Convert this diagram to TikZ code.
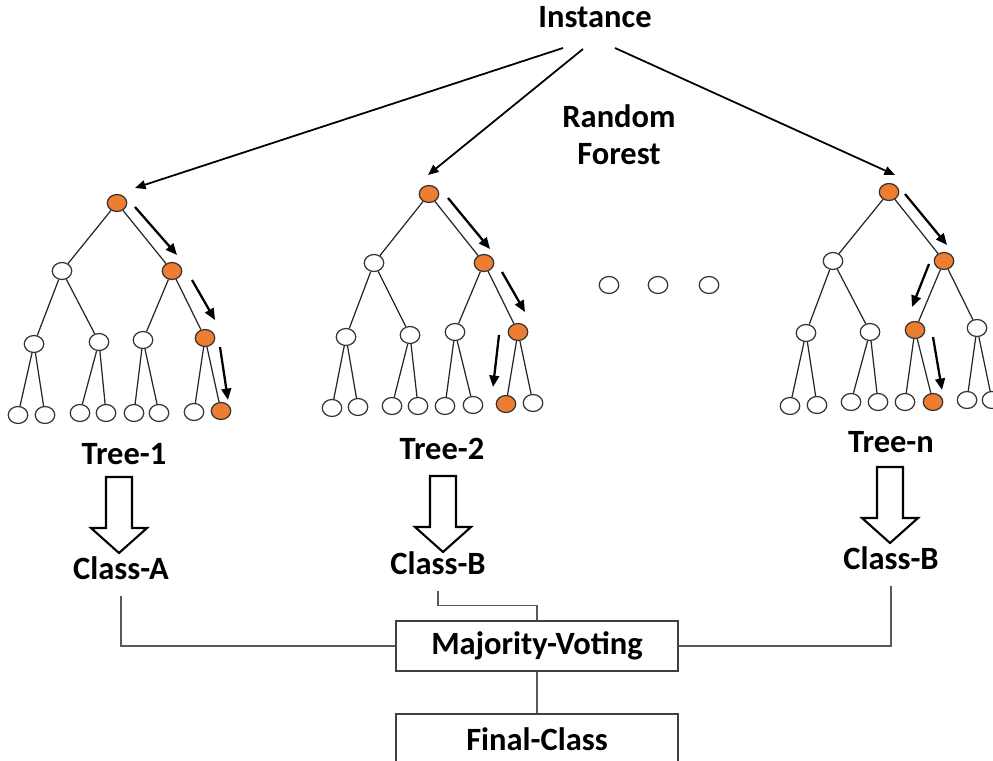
\documentclass[tikz,border=0pt]{standalone}
\usepackage{fontspec}
\setmainfont{Carlito}
\usetikzlibrary{arrows.meta,shapes.geometric}
\definecolor{pathorange}{HTML}{ED7D31}

\begin{document}
\begin{tikzpicture}[x=0.02cm, y=-0.02cm,
    lbl/.style={font=\fontsize{18.5}{21}\selectfont\bfseries, align=center},
    treenode/.style={ellipse, draw=black!80, line width=0.7pt, fill=white, minimum width=0.39cm, minimum height=0.34cm, inner sep=0pt},
    branch/.style={draw=black!85, line width=0.7pt},
    walk/.style={line width=1.3pt, -{Triangle[length=6.5pt,width=5.5pt]}},
    feed/.style={line width=1pt, -{Triangle[length=6pt,width=5pt]}},
    classlbl/.style={lbl, inner ysep=9pt},
    votebox/.style={lbl, draw=black!75, line width=0.8pt, minimum width=5.64cm, minimum height=1cm},
    hollow/.style={draw, line width=1.2pt, line join=miter},
    wire/.style={draw=black!65, line width=0.6pt}]
    \useasboundingbox (0,0) rectangle (993,760);

    % Instance and title
    \node[lbl] (inst) at (595,17) {Instance};
    \node[lbl] (forest) at (619,135) {Random\\ Forest};

    % Tree-1
    \foreach \n/\x/\y/\col in {r/117/203/pathorange, a/62/271/white, b/172/271/pathorange,
        aa/34/344/white, ab/99/342/white, ba/143/340/white, bb/205/338/pathorange,
        aaa/18/415/white, aab/45/415/white, aba/80/413/white, abb/106/413/white,
        baa/134/413/white, bab/159/413/white, bba/194/412/white, bbb/221/411/pathorange}
        \node[treenode, fill=\col] (t1\n) at (\x,\y) {};

    % Tree-2
    \foreach \n/\x/\y/\col in {r/429/194/pathorange, a/374/263/white, b/484/263/pathorange,
        aa/346/337/white, ab/410/335/white, ba/455/332/white, bb/518/332/pathorange,
        aaa/332/408/white, aab/358/407/white, aba/392/406/white, abb/418/406/white,
        baa/445/406/white, bab/473/405/white, bba/506/404/pathorange, bbb/533/403/white}
        \node[treenode, fill=\col] (t2\n) at (\x,\y) {};

    % Tree-n
    \foreach \n/\x/\y/\col in {r/889/192/pathorange, a/833/261/white, b/944/261/pathorange,
        aa/806/333/white, ab/870/332/white, ba/915/330/pathorange, bb/977/328/white,
        aaa/790/406/white, aab/817/405/white, aba/851/402/white, abb/878/402/white,
        baa/905/402/white, bab/933/402/pathorange, bba/967/400/white, bbb/992/400/white}
        \node[treenode, fill=\col] (tn\n) at (\x,\y) {};

    % branches
    \foreach \t in {1,2,n}
        \foreach \p/\kid in {r/a, r/b, a/aa, a/ab, b/ba, b/bb, aa/aaa, aa/aab,
                             ab/aba, ab/abb, ba/baa, ba/bab, bb/bba, bb/bbb}
            \draw[branch] (t\t\p) -- (t\t\kid);

    % dots between the trees
    \foreach \i/\x in {1/609, 2/658, 3/709}
        \node[treenode] (dot\i) at (\x,285) {};

    % Instance arrows
    \draw[feed] ([shift={(-32,31)}]inst.center) -- ([shift={(18,-15)}]t1r.center);
    \draw[feed] ([shift={(-12,32)}]inst.center) -- ([shift={(-1,-19)}]t2r.center);
    \draw[feed] ([shift={(20,31)}]inst.center) -- ([shift={(6,-17)}]tnr.center);

    % decision paths
    \draw[walk] ([shift={(18,4)}]t1r.center) -- ([shift={(5,-16)}]t1b.center);
    \draw[walk] ([shift={(20,9)}]t1b.center) -- ([shift={(10,-18)}]t1bb.center);
    \draw[walk] ([shift={(15,9)}]t1bb.center) -- ([shift={(7,-11)}]t1bbb.center);

    \draw[walk] ([shift={(19,4)}]t2r.center) -- ([shift={(6,-14)}]t2b.center);
    \draw[walk] ([shift={(18,9)}]t2b.center) -- ([shift={(7,-20)}]t2bb.center);
    \draw[walk] ([shift={(-19,3)}]t2bb.center) -- ([shift={(-13,-17)}]t2bba.center);

    \draw[walk] ([shift={(16,2)}]tnr.center) -- ([shift={(3,-16)}]tnb.center);
    \draw[walk] ([shift={(-15,3)}]tnb.center) -- ([shift={(-3,-23)}]tnba.center);
    \draw[walk] ([shift={(18,7)}]tnba.center) -- ([shift={(9,-12)}]tnbab.center);

    % Tree labels
    \node[lbl] (tree1) at (124,454) {Tree-1};
    \node[lbl] (tree2) at (442,449) {Tree-2};
    \node[lbl] (treen) at (891,442) {Tree-n};

    % hollow arrows
    \foreach \cx/\ty in {119/477, 443/476, 890/467}
        \draw[hollow] (\cx-13,\ty) -- (\cx+13,\ty) -- (\cx+13,\ty+51) -- (\cx+28,\ty+51)
            -- (\cx,\ty+76) -- (\cx-28,\ty+51) -- (\cx-13,\ty+51) -- cycle;

    % Classes
    \node[classlbl] (class1) at (121,568) {Class-A};
    \node[classlbl] (class2) at (438,563) {Class-B};
    \node[classlbl] (classn) at (891,558) {Class-B};

    % Voting
    \node[votebox] (vote) at (537,646) {Majority-Voting};
    \node[votebox] (final) at (537,739) {Final-Class};

    \draw[wire] (class1.south) |- (vote.west);
    \draw[wire] (class2.south) -- ++(0,15) -| (vote.north);
    \draw[wire] (classn.south) |- (vote.east);
    \draw[wire] (vote) -- (final);
\end{tikzpicture}
\end{document}
